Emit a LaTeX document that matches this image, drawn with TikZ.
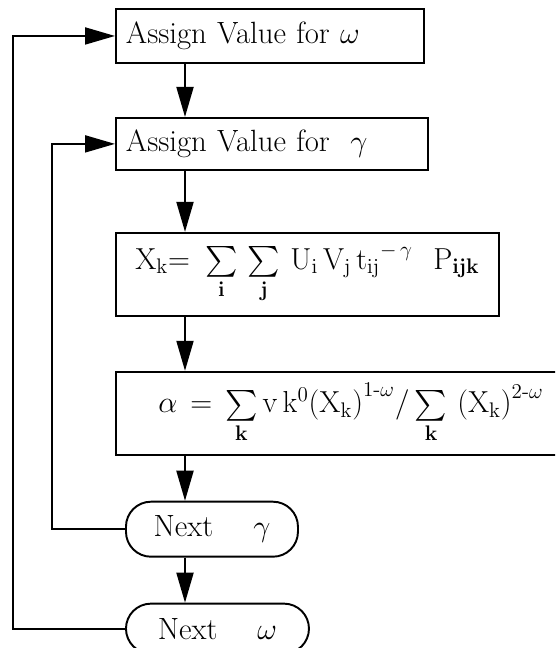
\documentclass[tikz,border=0pt]{standalone}
\usepackage{amsmath,amssymb}
\usepackage{tikz}
\usetikzlibrary{positioning,arrows.meta}
\tikzset{
  box/.style={rectangle, draw, line width=1.1pt, inner xsep=0.2cm, inner ysep=0pt,
    font=\fontsize{17.5}{20}\selectfont},
  term/.style={rectangle, rounded corners=0.5cm, draw, line width=1.1pt, align=center,
    minimum height=1.0cm, inner ysep=0pt, font=\fontsize{17.5}{20}\selectfont},
  arrow/.style={-{Triangle[length=6mm,width=3.4mm]}, line width=1.1pt}
}

\begin{document}
\begin{tikzpicture}[node distance=1cm]
  \clip (0,0) rectangle (11.1,-12.96);
  \node[box, text width=5.76cm, align=left, minimum height=1.08cm, anchor=north west] (val-w) at (2.3,-0.16) {Assign Value for $\omega$};
  \node[box, text width=5.84cm, align=left, minimum height=1.04cm, below=1.06cm of val-w.south west, anchor=north west] (val-g) {Assign Value for \ $\gamma$};
  \node[box, text width=7.26cm, align=center, minimum height=1.66cm, below=1.22cm of val-g.south west, anchor=north west] (xk)
    {$\mathrm{X_k}{=}\ \sum\limits_{\mathbf i}\,\sum\limits_{\mathbf j}\,\mathrm{U_i\,V_j\,t_{ij}}^{-\,\gamma}\ \ \mathrm{P_{\mathbf{ijk}}}$};
  \node[box, text width=9cm, align=center, minimum height=1.66cm, below=1.08cm of xk.south west, anchor=north west] (alpha)
    {$\alpha = \sum\limits_{\mathbf k}\mathrm{v\,k^0(X_k)}^{1\text{-}\omega}/\sum\limits_{\mathbf k}\,\mathrm{(X_k)}^{2\text{-}\omega}$};
  \node[term, minimum width=3.44cm, minimum height=1.1cm, below=0.9cm of alpha.south west, anchor=north west, xshift=0.2cm] (next-g) {Next \quad $\gamma$};
  \node[term, minimum width=3.66cm, below=0.9cm of next-g.south west, anchor=north west] (next-w) {Next \quad $\omega$};
  % main flow
  \draw[arrow] ([xshift=1.4cm]val-w.south west) -- ([xshift=1.4cm]val-g.north west);
  \draw[arrow] ([xshift=1.4cm]val-g.south west) -- ([xshift=1.4cm]xk.north west);
  \draw[arrow] ([xshift=1.4cm]xk.south west) -- ([xshift=1.4cm]alpha.north west);
  \draw[arrow] ([xshift=1.4cm]alpha.south west) -- ([xshift=1.2cm]next-g.north west);
  \draw[arrow] ([xshift=1.2cm]next-g.south west) -- ([xshift=1.2cm]next-w.north west);
  % loops back
  \draw[arrow] (next-g.west) -- ++(-1.46,0) |- (val-g.west);
  \draw[arrow] (next-w.west) -- ++(-2.24,0) |- (val-w.west);
\end{tikzpicture}
\end{document}
